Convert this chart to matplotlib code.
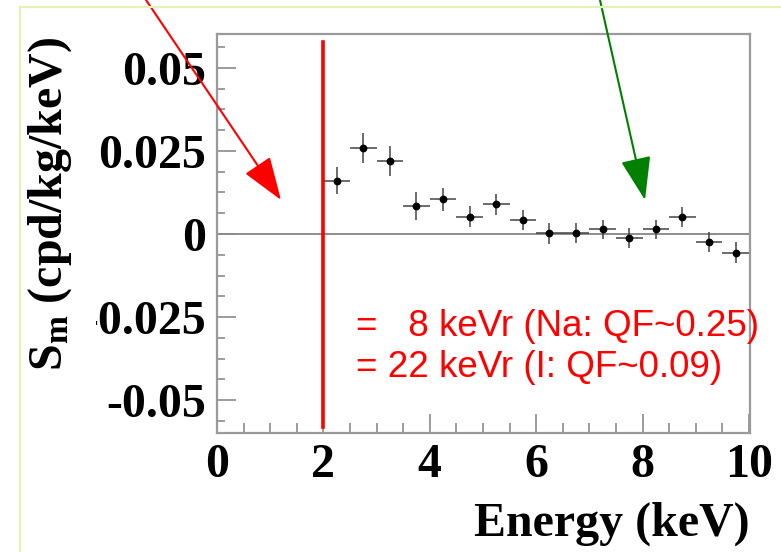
import numpy as np
import matplotlib
matplotlib.use("Agg")
from matplotlib import pyplot as plt
from matplotlib.lines import Line2D
from matplotlib.ticker import FixedLocator, MultipleLocator

# modulation amplitude per 0.5 keV bin
energy = [2.25, 2.75, 3.25, 3.75, 4.25, 4.75, 5.25, 5.75,
          6.25, 6.75, 7.25, 7.75, 8.25, 8.75, 9.25, 9.75]
sm = [0.0161, 0.0260, 0.0220, 0.0083, 0.0104, 0.0052, 0.0089, 0.0042,
      0.0002, 0.0002, 0.0014, -0.0013, 0.0014, 0.0050, -0.0023, -0.0056]
sm_err = [0.0041, 0.0045, 0.0045, 0.0042, 0.0035, 0.0032, 0.0031, 0.0031,
          0.0032, 0.0030, 0.0028, 0.0030, 0.0028, 0.0030, 0.0030, 0.0031]
bin_half = 0.25

threshold = 2.0
xticks = [0, 2, 4, 6, 8, 10]
yticks = [-0.05, -0.025, 0, 0.025, 0.05]
ytick_labels = ["-0.05", "-0.025", "0", "0.025", "0.05"]
note1 = "=   8 keVr (Na: QF~0.25)"
note2 = "= 22 keVr (I: QF~0.09)"

plt.rcParams['mathtext.fontset'] = 'custom'
plt.rcParams['mathtext.rm'] = 'Liberation Serif:bold'
plt.rcParams['mathtext.bf'] = 'Liberation Serif:bold'
plt.rcParams['mathtext.it'] = 'Liberation Serif:bold'

W, H = 781, 552
fig = plt.figure(figsize=(W/100, H/100), dpi=100)
ax = fig.add_axes([217/W, 1 - 433/H, (750-217)/W, (433-34)/H])

grey = '#8a8a8a'
ax.axhline(0, color='#7a7a7a', lw=1.2, zorder=1)
ax.errorbar(energy, sm, yerr=sm_err, xerr=bin_half, fmt='o', color='black',
            ms=4.6, ecolor='#444444', elinewidth=1.1, capsize=0, zorder=3)
ax.plot([threshold, threshold], [-0.0581, 0.0578], color='#ff0000', lw=2.6, zorder=4)

ax.set_xlim(0, 10.02)
ax.set_ylim(-0.0599, 0.0602)
ax.xaxis.set_major_locator(FixedLocator(xticks))
ax.xaxis.set_minor_locator(MultipleLocator(0.5))
ax.yaxis.set_major_locator(FixedLocator(yticks))
ax.yaxis.set_minor_locator(MultipleLocator(0.00625))
ax.set_yticklabels(ytick_labels)

for s in ax.spines.values():
    s.set_color('#9a9a9a')
    s.set_linewidth(1.6)
ax.tick_params(which='both', direction='in', color=grey, width=1.2, top=False, right=False)
ax.tick_params(which='major', length=14)
ax.tick_params(which='minor', length=6)
ax.tick_params(axis='x', which='minor', length=7.5)
ax.tick_params(axis='y', which='major', pad=8)
ax.tick_params(axis='x', which='major', pad=7)
for lab in ax.get_xticklabels() + ax.get_yticklabels():
    lab.set_fontfamily('Liberation Serif')
    lab.set_fontweight('bold')
    lab.set_fontsize(34.5)

ax.set_xlabel("Energy (keV)", fontfamily='Liberation Serif', fontweight='bold',
              fontsize=34.5, ha='right')
ax.xaxis.set_label_coords(1.0, -0.172)

fig.text(62/W, 1 - 204/H, r"$\mathbf{S}_{\mathbf{m}}$ (cpd/kg/keV)",
         fontfamily='Liberation Serif', fontweight='bold', fontsize=34.5,
         rotation=90, rotation_mode='anchor', ha='center', va='baseline',
         bbox=dict(boxstyle='square,pad=0.45', fc='white', ec='none'))

ax.text(0.260, 0.2657, note1, transform=ax.transAxes, color='#ff0000',
        fontfamily='Liberation Sans', fontsize=26.5, va='center', ha='left', clip_on=False)
ax.text(0.260, 0.1654, note2, transform=ax.transAxes, color='#ff0000',
        fontfamily='Liberation Sans', fontsize=26.5, va='center', ha='left', clip_on=False)

# pointer arrows from above the frame
def pointer(x0, y0, x1, y1, col):
    fig.add_artist(plt.Annotation("", xy=(x1/W, 1 - y1/H), xytext=(x0/W, 1 - y0/H),
                                  xycoords='figure fraction', textcoords='figure fraction',
                                  arrowprops=dict(arrowstyle='-|>,head_length=27,head_width=9.5',
                                                  mutation_scale=1, color=col, lw=1.5,
                                                  shrinkA=0, shrinkB=0)))

pointer(146, 0, 281, 200, '#ff0000')
pointer(600, 0, 645, 200, '#008000')

# pale page border
border = '#e4f3b4'
fig.add_artist(Line2D([20/W, 1], [1 - 7/H, 1 - 7/H], transform=fig.transFigure,
                      color=border, lw=1.6, zorder=10))
fig.add_artist(Line2D([20/W, 20/W], [0, 1 - 7/H], transform=fig.transFigure,
                      color=border, lw=1.6, zorder=10))

fig.savefig('out.png', dpi=100)
